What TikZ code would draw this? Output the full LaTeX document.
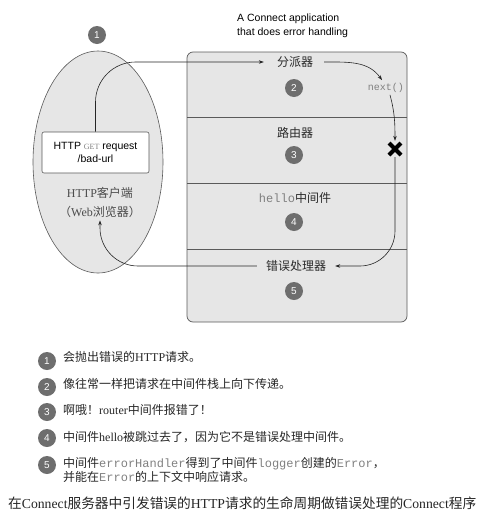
\documentclass[tikz,border=0pt]{standalone}
\usepackage{fontspec}
\setmainfont{Liberation Serif}
\setsansfont{Liberation Sans}
\setmonofont{Liberation Mono}
\newfontfamily\cjk{Noto Sans CJK SC}
\usetikzlibrary{arrows.meta,shapes.geometric}
\newcommand{\zh}[1]{{\cjk #1}}
\newcommand{\cd}[1]{{\ttfamily\color{codegray}#1}}
\definecolor{numgray}{HTML}{6E6E6E}
\definecolor{boxfill}{HTML}{E6E6E6}
\definecolor{edge}{HTML}{5A5A5A}
\definecolor{labgray}{HTML}{2A2A2A}
\definecolor{codegray}{HTML}{808080}
\begin{document}
\begin{tikzpicture}[x=1pt,y=-1pt,
  numc/.style={circle,fill=numgray,text=white,inner sep=0pt,minimum size=18pt,font=\sffamily\fontsize{10}{10}\selectfont},
  lab/.style={text=labgray,font=\fontsize{12}{14}\selectfont,inner sep=1pt},
  arr/.style={draw=black!85,line width=0.6pt,-{Stealth[length=5pt,width=3.5pt]}},
  item/.style={anchor=west,align=left,font=\fontsize{12}{14.5}\selectfont,inner sep=0pt,text=black!85}]
\useasboundingbox (0,0) rectangle (500,520);
% client ellipse
\node (cl) [ellipse,draw=edge,fill=boxfill,line width=0.6pt,minimum width=130pt,minimum height=222pt] at (98,162) {};
\node (n1) [numc] at (97,35) {1};
% application box
\node (app) [draw=edge,fill=boxfill,line width=0.7pt,rounded corners=6pt,minimum width=220pt,minimum height=270pt,inner sep=0pt] at (297,187) {};
\draw[edge,line width=0.6pt] (187,117) -- (407,117);
\draw[edge,line width=0.6pt] (187,183) -- (407,183);
\draw[edge,line width=0.6pt] (187,249) -- (407,249);
\node (title) [anchor=west,align=left,font=\sffamily\fontsize{10.5}{14}\selectfont,inner sep=0pt] at (237,26) {A Connect application\\that does error handling};
% request box
\node (req) [draw=edge,fill=white,line width=0.6pt,rounded corners=2pt,minimum width=107pt,minimum height=41pt,align=center,font=\sffamily\fontsize{10.5}{13}\selectfont] at (95.5,152.5) {HTTP {\rmfamily\color{codegray}\fontsize{8}{8}\selectfont GET} request\\/bad-url};
\node (client) [align=center,text=edge!85!black,font=\fontsize{12}{19}\selectfont,inner sep=1pt] at (100,202) {HTTP\zh{客户端}\\\zh{（}Web\zh{浏览器）}};
% stack labels
\node (disp) [lab] at (295,62) {\zh{分派器}};
\node (n2) [numc] at (294,88) {2};
\node (rout) [lab] at (295,133) {\zh{路由器}};
\node (n3) [numc] at (294,155) {3};
\node (hello) [lab] at (295,198) {\cd{hello}\zh{中间件}};
\node (n4) [numc] at (294,222) {4};
\node (err) [lab] at (296,266) {\zh{错误处理器}};
\node (n5) [numc] at (294,291) {5};
\node (nxt) [font=\fontsize{10}{10}\selectfont,inner sep=1pt] at (386,88) {\cd{next()}};
\node (xm) [minimum size=16pt,inner sep=0pt] at (395,149) {};
\draw[line width=4pt] ([shift={(-6pt,-6pt)}]xm.center) -- ([shift={(6pt,6pt)}]xm.center);
\draw[line width=4pt] ([shift={(-6pt,6pt)}]xm.center) -- ([shift={(6pt,-6pt)}]xm.center);
% connectors
\draw[arr,rounded corners=40pt] (req.north) |- ([xshift=-12pt]disp.west);
\draw[arr] ([xshift=10pt]disp.east) to[out=0,in=125] ([xshift=-4pt,yshift=2pt]nxt.north);
\draw[arr] ([xshift=4pt,yshift=-1pt]nxt.south) to[out=-75,in=90] (xm.north);
\draw[arr,rounded corners=35pt] (xm.south) |- ([xshift=8pt]err.east);
\draw[arr,rounded corners=38pt] ([xshift=-8pt]err.west) -| ([yshift=-2pt]client.south);
% list
\node (l1) [numc] at (47,361) {1};
\node (t1) [item] at (63,357) {\zh{会抛出错误的}HTTP\zh{请求。}};
\node (l2) [numc] at (47,387) {2};
\node (t2) [item] at (63,384) {\zh{像往常一样把请求在中间件栈上向下传递。}};
\node (l3) [numc] at (47,412) {3};
\node (t3) [item] at (63,410) {\zh{啊哦！}router\zh{中间件报错了！}};
\node (l4) [numc] at (47,438) {4};
\node (t4) [item] at (63,437) {\zh{中间件}hello\zh{被跳过去了，因为它不是错误处理中间件。}};
\node (l5) [numc] at (47,465) {5};
\node (t5) [item] at (63,470) {\zh{中间件}\cd{errorHandler}\zh{得到了中间件}\cd{logger}\zh{创建的}\cd{Error}\zh{，}\\\zh{并能在}\cd{Error}\zh{的上下文中响应请求。}};
\node (cap) [anchor=west,inner sep=0pt,font=\fontsize{13.7}{16}\selectfont,text=black!85] at (8,503) {\zh{在}Connect\zh{服务器中引发错误的}HTTP\zh{请求的生命周期做错误处理的}Connect\zh{程序}};
\end{tikzpicture}
\end{document}
